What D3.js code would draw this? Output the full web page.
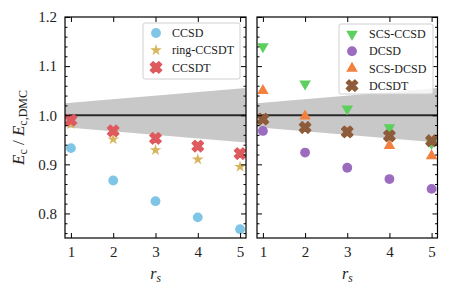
<!DOCTYPE html>
<html>
<head>
<meta charset="utf-8">
<script src="https://cdn.jsdelivr.net/npm/d3@7"></script>
<style>
  body { margin: 0; background: #fff; }
  svg text { font-family: "Liberation Serif", "Times New Roman", "DejaVu Serif", serif !important; }
</style>
</head>
<body>
<script>
const width = 451;
const height = 295;
const serif = "'Liberation Serif', 'Times New Roman', serif";

const rs = [1, 2, 3, 4, 5];
const xTicks = [1, 2, 3, 4, 5];
const yTicks = [0.8, 0.9, 1.0, 1.1, 1.2];

// gray DMC error band (drawn past the frame and clipped)
const bandRs = [0.8, 5.2];
const bandHi = [1.024, 1.056];
const bandLo = [0.976, 0.944];

// left panel
const ccsd = [0.933, 0.867, 0.825, 0.792, 0.768];
const ringCcsdt = [0.982, 0.951, 0.929, 0.910, 0.895];
const ccsdt = [0.990, 0.968, 0.953, 0.937, 0.922];

// right panel
const scsCcsd = [1.140, 1.064, 1.013, 0.975, 0.943];
const dcsd = [0.968, 0.924, 0.893, 0.870, 0.850];
const scsDcsd = [1.050, 0.998, 0.964, 0.938, 0.917];
const dcsdt = [0.992, 0.975, 0.966, 0.958, 0.948];

const leftSeries = [
  {name: "CCSD", values: ccsd, color: "#7fc6e6", shape: "circle"},
  {name: "ring-CCSDT", values: ringCcsdt, color: "#d8b45c", shape: "star"},
  {name: "CCSDT", values: ccsdt, color: "#de5a5e", shape: "x"},
];
const rightSeries = [
  {name: "SCS-CCSD", values: scsCcsd, color: "#5dcf5d", shape: "tridown"},
  {name: "DCSD", values: dcsd, color: "#9a6bbf", shape: "circle"},
  {name: "SCS-DCSD", values: scsDcsd, color: "#f2813f", shape: "triup"},
  {name: "DCSDT", values: dcsdt, color: "#8e5c3a", shape: "x"},
];

const yTop = 17, yBottom = 238;
const panels = [
  {x0: 65, x1: 246, series: leftSeries, yLabels: true,
   legend: {x: 143, y: 23, w: 97, h: 56, mx: 156, tx: 172}},
  {x0: 257, x1: 437.5, series: rightSeries, yLabels: false,
   legend: {x: 339, y: 24, w: 94, h: 70, mx: 352, tx: 369}},
];

const svg = d3.select("body").append("svg")
  .attr("width", width)
  .attr("height", height)
  .style("font-family", serif);

const y = d3.scaleLinear().domain([0.75, 1.2]).range([yBottom, yTop]);

function markerPath(shape) {
  if (shape === "circle") return d3.symbol(d3.symbolCircle, 76)();
  if (shape === "star") return d3.symbol(d3.symbolStar, 42)();
  if (shape === "x") return d3.symbol(d3.symbolCross, 80)();
  return d3.symbol(d3.symbolTriangle, 58)();
}
function markerRot(shape) {
  if (shape === "x") return 45;
  if (shape === "tridown") return 180;
  return 0;
}
// filled X gets a same-colour edge, like the blobby crosses in the picture
function styleMarker(sel, s) {
  sel.attr("fill", s.color);
  if (s.shape === "x") {
    sel.attr("stroke", s.color)
      .attr("stroke-width", 1.4)
      .attr("stroke-linejoin", "round");
  }
}

panels.forEach(function (p, i) {
  const x = d3.scaleLinear().domain([0.86, 5.14]).range([p.x0, p.x1]);
  const g = svg.append("g");

  g.append("clipPath").attr("id", "clip" + i)
    .append("rect")
    .attr("x", p.x0).attr("y", yTop)
    .attr("width", p.x1 - p.x0).attr("height", yBottom - yTop);

  const plot = g.append("g").attr("clip-path", "url(#clip" + i + ")");

  const area = d3.area()
    .x(function (d, j) { return x(bandRs[j]); })
    .y0(function (d, j) { return y(bandLo[j]); })
    .y1(function (d, j) { return y(bandHi[j]); });
  plot.append("path")
    .attr("d", area(bandRs))
    .attr("fill", "#c8c8c8");

  plot.append("line")
    .attr("x1", p.x0).attr("x2", p.x1)
    .attr("y1", y(1)).attr("y2", y(1))
    .attr("stroke", "#2a2a2a")
    .attr("stroke-width", 2);

  p.series.forEach(function (s) {
    plot.selectAll(null)
      .data(s.values)
      .enter()
      .append("path")
      .attr("d", markerPath(s.shape))
      .attr("transform", function (d, j) {
        return "translate(" + x(rs[j]) + "," + y(d) + ") rotate(" + markerRot(s.shape) + ")";
      })
      .call(styleMarker, s);
  });

  // axes with inward ticks on all sides
  const minor = d3.range(0.76, 1.2, 0.02).filter(function (v) {
    return Math.abs(Math.round(v * 10) - v * 10) > 0.01;
  });
  g.append("g").attr("transform", "translate(0," + yBottom + ")")
    .call(d3.axisBottom(x).tickValues(xTicks).tickSize(-5).tickPadding(8)
      .tickFormat(d3.format("d")));
  g.append("g").attr("transform", "translate(0," + yTop + ")")
    .call(d3.axisTop(x).tickValues(xTicks).tickSize(-5).tickFormat(""));
  g.append("g").attr("transform", "translate(" + p.x0 + ",0)")
    .call(d3.axisLeft(y).tickValues(yTicks).tickSize(-5).tickPadding(8)
      .tickFormat(p.yLabels ? d3.format(".1f") : ""));
  g.append("g").attr("transform", "translate(" + p.x1 + ",0)")
    .call(d3.axisRight(y).tickValues(yTicks).tickSize(-5).tickFormat(""));
  g.append("g").attr("transform", "translate(" + p.x0 + ",0)")
    .call(d3.axisLeft(y).tickValues(minor).tickSize(-2.5).tickFormat(""));
  g.append("g").attr("transform", "translate(" + p.x1 + ",0)")
    .call(d3.axisRight(y).tickValues(minor).tickSize(-2.5).tickFormat(""));

  g.selectAll(".domain").remove();
  g.selectAll("g").attr("font-family", serif);
  g.selectAll(".tick line").attr("stroke", "#000").attr("stroke-width", 1);
  g.selectAll(".tick text")
    .attr("font-family", serif)
    .attr("font-size", 15)
    .attr("fill", "#222");

  g.append("rect")
    .attr("x", p.x0).attr("y", yTop)
    .attr("width", p.x1 - p.x0).attr("height", yBottom - yTop)
    .attr("fill", "none")
    .attr("stroke", "#000")
    .attr("stroke-width", 1.2);

  // legend
  const L = p.legend;
  g.append("rect")
    .attr("x", L.x).attr("y", L.y)
    .attr("width", L.w).attr("height", L.h)
    .attr("rx", 2)
    .attr("fill", "#fff").attr("fill-opacity", 0.8)
    .attr("stroke", "#d0d0d0").attr("stroke-width", 1);
  p.series.forEach(function (s, j) {
    const ly = L.y + 10 + j * 17.2;
    g.append("path")
      .attr("d", markerPath(s.shape))
      .attr("transform", "translate(" + L.mx + "," + ly + ") rotate(" + markerRot(s.shape) + ")")
      .call(styleMarker, s);
    g.append("text")
      .attr("x", L.tx).attr("y", ly)
      .attr("dy", "0.35em")
      .attr("font-family", serif)
      .attr("font-size", 12)
      .attr("fill", "#222")
      .text(s.name);
  });

  // x label
  g.append("text")
    .attr("x", (p.x0 + p.x1) / 2).attr("y", 279)
    .attr("text-anchor", "middle")
    .attr("font-family", serif)
    .attr("font-size", 16)
    .attr("fill", "#222")
    .html('<tspan font-style="italic">r</tspan><tspan font-style="italic" font-size="11.5" dy="3">s</tspan>');
});

// y label
svg.append("text")
  .attr("transform", "translate(24," + (yTop + yBottom) / 2 + ") rotate(-90)")
  .attr("text-anchor", "middle")
  .attr("font-family", serif)
  .attr("font-size", 17)
  .attr("fill", "#222")
  .html('<tspan font-style="italic">E</tspan><tspan font-size="12" dy="3">c</tspan>' +
        '<tspan dy="-3"> / </tspan><tspan font-style="italic">E</tspan>' +
        '<tspan font-size="12" dy="3">c,DMC</tspan>');
</script>
</body>
</html>
